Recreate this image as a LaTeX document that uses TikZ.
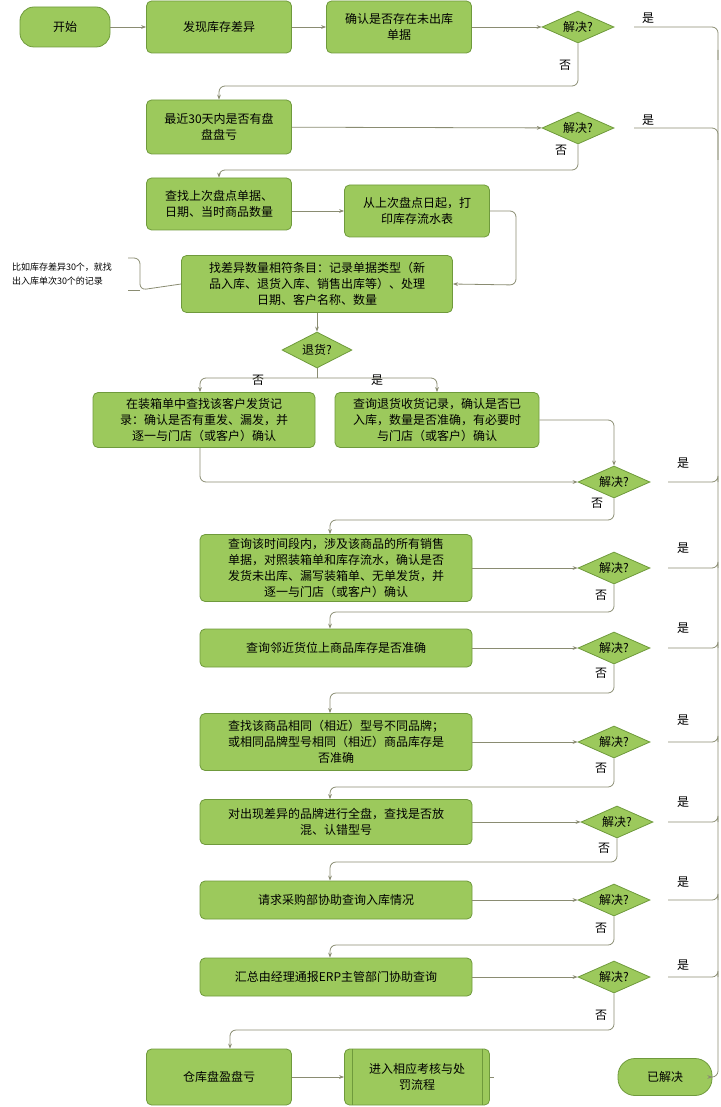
\documentclass[tikz,border=0pt]{standalone}
\usepackage{fontspec}
\newfontfamily\cjk{Noto Sans CJK SC}
\usetikzlibrary{shapes.geometric,arrows.meta}
\definecolor{boxgreen}{HTML}{9CC95C}
\definecolor{boxedge}{HTML}{6F9A3C}
\definecolor{linegray}{HTML}{8A8C72}
\begin{document}
\begin{tikzpicture}[x=1pt, y=-1pt, font=\cjk\fontsize{12}{16}\selectfont,
procbox/.style={rectangle, rounded corners=5pt, draw=boxedge, fill=boxgreen, thick, align=center, inner sep=3pt},
terminal/.style={rectangle, rounded corners=14pt, draw=boxedge, fill=boxgreen, thick, align=center},
decision/.style={diamond, aspect=2.4, draw=boxedge, fill=boxgreen, thick, inner sep=1pt, minimum width=72pt, minimum height=32pt},
flow/.style={draw=linegray, thick, rounded corners=6pt, -{Stealth[length=5pt]}},
link/.style={draw=linegray, thick, rounded corners=6pt},
]
\useasboundingbox (0,0) rectangle (720,1107);
%Nodes
\node[terminal, minimum width=90pt, minimum height=40pt] (start) at (65,27) {开始};
\node[procbox, minimum width=145pt, minimum height=52pt, text width=130pt] (find) at (219,27) {发现库存差异};
\node[procbox, minimum width=145pt, minimum height=52pt, text width=130pt] (check) at (399,27) {确认是否存在未出库\\单据};
\node[decision] (d1) at (578,27) {解决?};
\node[procbox, minimum width=145pt, minimum height=54pt, text width=132pt] (recent) at (219,127) {最近30天内是否有盘\\盘盘亏};
\node[decision] (d2) at (578,128) {解决?};
\node[procbox, minimum width=145pt, minimum height=52pt, text width=132pt] (last) at (219,204) {查找上次盘点单据、\\日期、当时商品数量};
\node[procbox, minimum width=145pt, minimum height=52pt, text width=132pt] (print) at (417,211) {从上次盘点日起，打\\印库存流水表};
\node[procbox, minimum width=271pt, minimum height=57pt, text width=260pt] (match) at (317,284) {找差异数量相符条目：记录单据类型（新\\品入库、退货入库、销售出库等）、处理\\日期、客户名称、数量};
\node[align=left, font=\cjk\fontsize{9}{14}\selectfont, inner sep=0pt] (note) at (62,274) {比如库存差异30个，就找\\出入库单次30个的记录};
\node[decision, minimum width=70pt, minimum height=36pt] (ret) at (317,350) {退货?};
\node[procbox, minimum width=222pt, minimum height=55pt, text width=212pt] (box) at (204,420) {在装箱单中查找该客户发货记\\录：确认是否有重发、漏发，并\\逐一与门店（或客户）确认};
\node[procbox, minimum width=204pt, minimum height=55pt, text width=196pt] (recv) at (437,420) {查询退货收货记录，确认是否已\\入库，数量是否准确，有必要时\\与门店（或客户）确认};
\node[decision] (d4) at (614,482) {解决?};
\node[procbox, minimum width=272pt, minimum height=67pt, text width=262pt] (sales) at (336,568) {查询该时间段内，涉及该商品的所有销售\\单据，对照装箱单和库存流水，确认是否\\发货未出库、漏写装箱单、无单发货，并\\逐一与门店（或客户）确认};
\node[decision] (d5) at (614,568) {解决?};
\node[procbox, minimum width=272pt, minimum height=38pt] (near) at (336,648) {查询邻近货位上商品库存是否准确};
\node[decision] (d6) at (614,648) {解决?};
\node[procbox, minimum width=272pt, minimum height=57pt, text width=262pt] (brand) at (336,742) {查找该商品相同（相近）型号不同品牌；\\或相同品牌型号相同（相近）商品库存是\\否准确};
\node[decision] (d7) at (614,742) {解决?};
\node[procbox, minimum width=272pt, minimum height=45pt, text width=262pt] (full) at (336,822) {对出现差异的品牌进行全盘，查找是否放\\混、认错型号};
\node[decision] (d8) at (617,822) {解决?};
\node[procbox, minimum width=272pt, minimum height=38pt] (buy) at (336,900) {请求采购部协助查询入库情况};
\node[decision] (d9) at (614,900) {解决?};
\node[procbox, minimum width=272pt, minimum height=38pt] (erp) at (336,977) {汇总由经理通报ERP主管部门协助查询};
\node[decision] (d10) at (614,977) {解决?};
\node[procbox, minimum width=145pt, minimum height=56pt] (loss) at (219,1077) {仓库盘盈盘亏};
\node[procbox, minimum width=145pt, minimum height=56pt, text width=110pt] (punish) at (417,1077) {进入相应考核与处\\罚流程};
\draw[boxedge, thick] ([xshift=8pt]punish.north west) -- ([xshift=8pt]punish.south west);
\draw[boxedge, thick] ([xshift=-8pt]punish.north east) -- ([xshift=-8pt]punish.south east);
\node[terminal, minimum width=94pt, minimum height=37pt, rounded corners=17pt] (ok) at (665,1077) {已解决};

%Labels
\node at (648,18) {是};
\node at (648,120) {是};
\node at (565,65) {否};
\node at (561,150) {否};
\node at (258,380) {否};
\node at (377,380) {是};
\foreach \y/\ny in {463/503, 548/595, 628/673, 720/768, 802/848, 882/928, 965/1015}
  {\node at (683,\y) {是};}
\foreach \x/\ny in {597/503, 601/595, 601/673, 601/768, 604/848, 601/928, 601/1015}
  {\node at (\x,\ny) {否};}

%Lines
\draw[flow] (start) -- (find);
\draw[flow] (find) -- (check);
\draw[flow] (check) -- (d1);
\draw[flow] (d1.south) -- (d1.south |- 0,86) -- (recent.north |- 0,86) -- (recent.north);
\draw[flow] (recent) -- (d2);
\draw[flow] (d2.south) -- (d2.south |- 0,170) -- (last.north |- 0,170) -- (last.north);
\draw[flow] (last.east |- print) -- (print);
\draw[flow] (print.east) -- (516,211) -- (516,285) -- (match.east);
\draw[link] (match.west) -- (140,290) -- (140,258) -- (128,258);
\draw[link] (140,290) -- (128,290);
\draw[flow] (match) -- (ret);
\draw[link] (ret.south) -- (317,378);
\draw[flow] (317,378) -- (200,378) -- (box.north -| 200,0);
\draw[flow] (317,378) -- (437,378) -- (recv.north);
\draw[flow] (box.south -| 200,0) -- (200,482) -- (d4.west);
\draw[flow] (recv.east) -- (614,420) -- (d4.north);
\foreach \d/\b/\y in {d4/sales/520, d5/near/612, d6/brand/693, d7/full/787, d8/buy/862, d9/erp/945}
  {\draw[flow] (\d.south) -- (\d.south |- 0,\y) -- (330,\y) -- (\b.north -| 330,0);}
\draw[flow] (d10.south) -- (d10.south |- 0,1030) -- (230,1030) -- (loss.north -| 230,0);
\draw[flow] (sales) -- (d5);
\draw[flow] (near) -- (d6);
\draw[flow] (brand) -- (d7);
\draw[flow] (full) -- (d8);
\draw[flow] (buy) -- (d9);
\draw[flow] (erp) -- (d10);
\draw[flow] (loss) -- (punish);
\draw[link] (punish.east) -- ++(4,0);
% yes rail
\draw[link] (634,27) -| (718,60);
\draw[link] (634,128) -| (718,160);
\foreach \d in {d4,d5,d6,d7,d8,d9,d10}
  {\draw[link] (668,0 |- \d) -| (718,0 |- \d);}
\draw[flow] (718,50) -- (718,1077) -- (ok.east);
\end{tikzpicture}
\end{document}
